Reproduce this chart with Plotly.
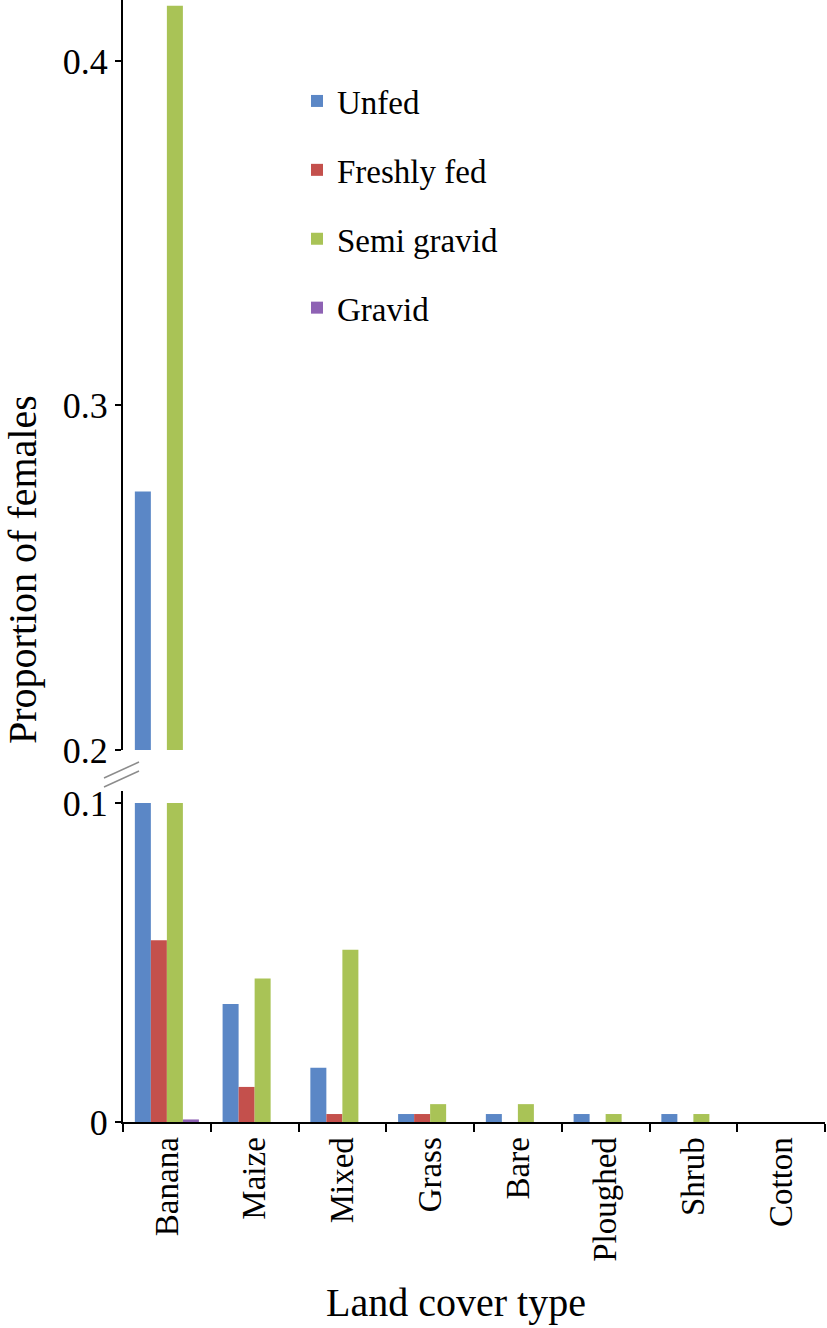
import numpy as np
import plotly.graph_objects as go

categories = ["Banana", "Maize", "Mixed", "Grass", "Bare", "Ploughed", "Shrub", "Cotton"]
unfed = [0.275, 0.037, 0.017, 0.0025, 0.0025, 0.0025, 0.0025, 0.0]
freshly_fed = [0.057, 0.011, 0.0025, 0.0025, 0.0, 0.0, 0.0, 0.0]
semi_gravid = [0.416, 0.045, 0.054, 0.0056, 0.0056, 0.0025, 0.0025, 0.0]
gravid = [0.0008, 0.0, 0.0, 0.0, 0.0, 0.0, 0.0, 0.0]

series_names = ["Unfed", "Freshly fed", "Semi gravid", "Gravid"]
series_values = [unfed, freshly_fed, semi_gravid, gravid]
colors = ["#5B87C6", "#C4504C", "#A9C356", "#8E62B4"]

BREAK_LOW = 0.1   # bottom panel is cut at this value
FONT = "Liberation Serif"

W, H = 827, 1328
L, R, T, B = 123, 2, 0, 206
PW, PH = W - L - R, H - T - B

def px_x(p):
    return (p - L) / PW

def px_y(p):
    return (T + PH - p) / PH

fig = go.Figure()
for name, vals, col in zip(series_names, series_values, colors):
    v = np.array(vals)
    fig.add_trace(go.Bar(x=categories, y=np.minimum(v, BREAK_LOW), name=name,
                         marker=dict(color=col, line=dict(width=0)),
                         legendgroup=name, xaxis="x", yaxis="y"))
    fig.add_trace(go.Bar(x=categories, y=v, name=name, showlegend=False,
                         marker=dict(color=col, line=dict(width=0)),
                         legendgroup=name, xaxis="x", yaxis="y2"))

axis_font = dict(family=FONT, size=36, color="black")

fig.update_layout(
    width=W, height=H,
    margin=dict(l=L, r=R, t=T, b=B, autoexpand=False),
    paper_bgcolor="white", plot_bgcolor="white",
    barmode="group", bargap=0.27, bargroupgap=0,
    font=dict(family=FONT, color="black"),
    showlegend=True,
    legend=dict(x=px_x(297), y=px_y(73), xanchor="left", yanchor="top",
                font=dict(family=FONT, size=33, color="black"),
                tracegroupgap=23, bgcolor="rgba(0,0,0,0)", borderwidth=0),
    xaxis=dict(domain=[0, 1], anchor="y", type="category", automargin=False,
               showline=True, linecolor="black", linewidth=2,
               ticks="outside", tickson="boundaries", ticklen=8, tickwidth=2, tickcolor="black",
               tickangle=-90, tickfont=dict(family=FONT, size=33, color="black"),
               showgrid=False, zeroline=False),
    yaxis=dict(domain=[0, px_y(791)], anchor="x", range=[0, 0.1038], automargin=False,
               tickvals=[0, 0.1], ticktext=["0", "0.1"],
               showline=True, linecolor="black", linewidth=2,
               ticks="outside", ticklen=6, tickwidth=2, tickcolor="black",
               tickfont=axis_font, showgrid=False, zeroline=False),
    yaxis2=dict(domain=[px_y(750), 1], anchor="x", range=[0.2, 0.4177], automargin=False,
                tickvals=[0.2, 0.3, 0.4], ticktext=["0.2", "0.3", "0.4"],
                showline=True, linecolor="black", linewidth=2,
                ticks="outside", ticklen=6, tickwidth=2, tickcolor="black",
                tickfont=axis_font, showgrid=False, zeroline=False),
)

# axis break marks
for (x0, y0, x1, y1) in [(104, 778, 139, 762), (104, 787, 139, 771)]:
    fig.add_shape(type="line", xref="paper", yref="paper",
                  x0=px_x(x0), y0=px_y(y0), x1=px_x(x1), y1=px_y(y1),
                  line=dict(color="#8C8C8C", width=1.5))

fig.add_annotation(text="Proportion of females", xref="paper", yref="paper",
                   x=px_x(22), y=px_y(570), textangle=-90, showarrow=False,
                   xanchor="center", yanchor="middle",
                   font=dict(family=FONT, size=40, color="black"))
fig.add_annotation(text="Land cover type", xref="paper", yref="paper",
                   x=px_x(456), y=px_y(1302), showarrow=False,
                   xanchor="center", yanchor="middle",
                   font=dict(family=FONT, size=40, color="black"))

fig.write_html("out.html", config={"displayModeBar": False},
               post_script="document.body.style.margin='0';document.body.style.overflow='hidden';")
